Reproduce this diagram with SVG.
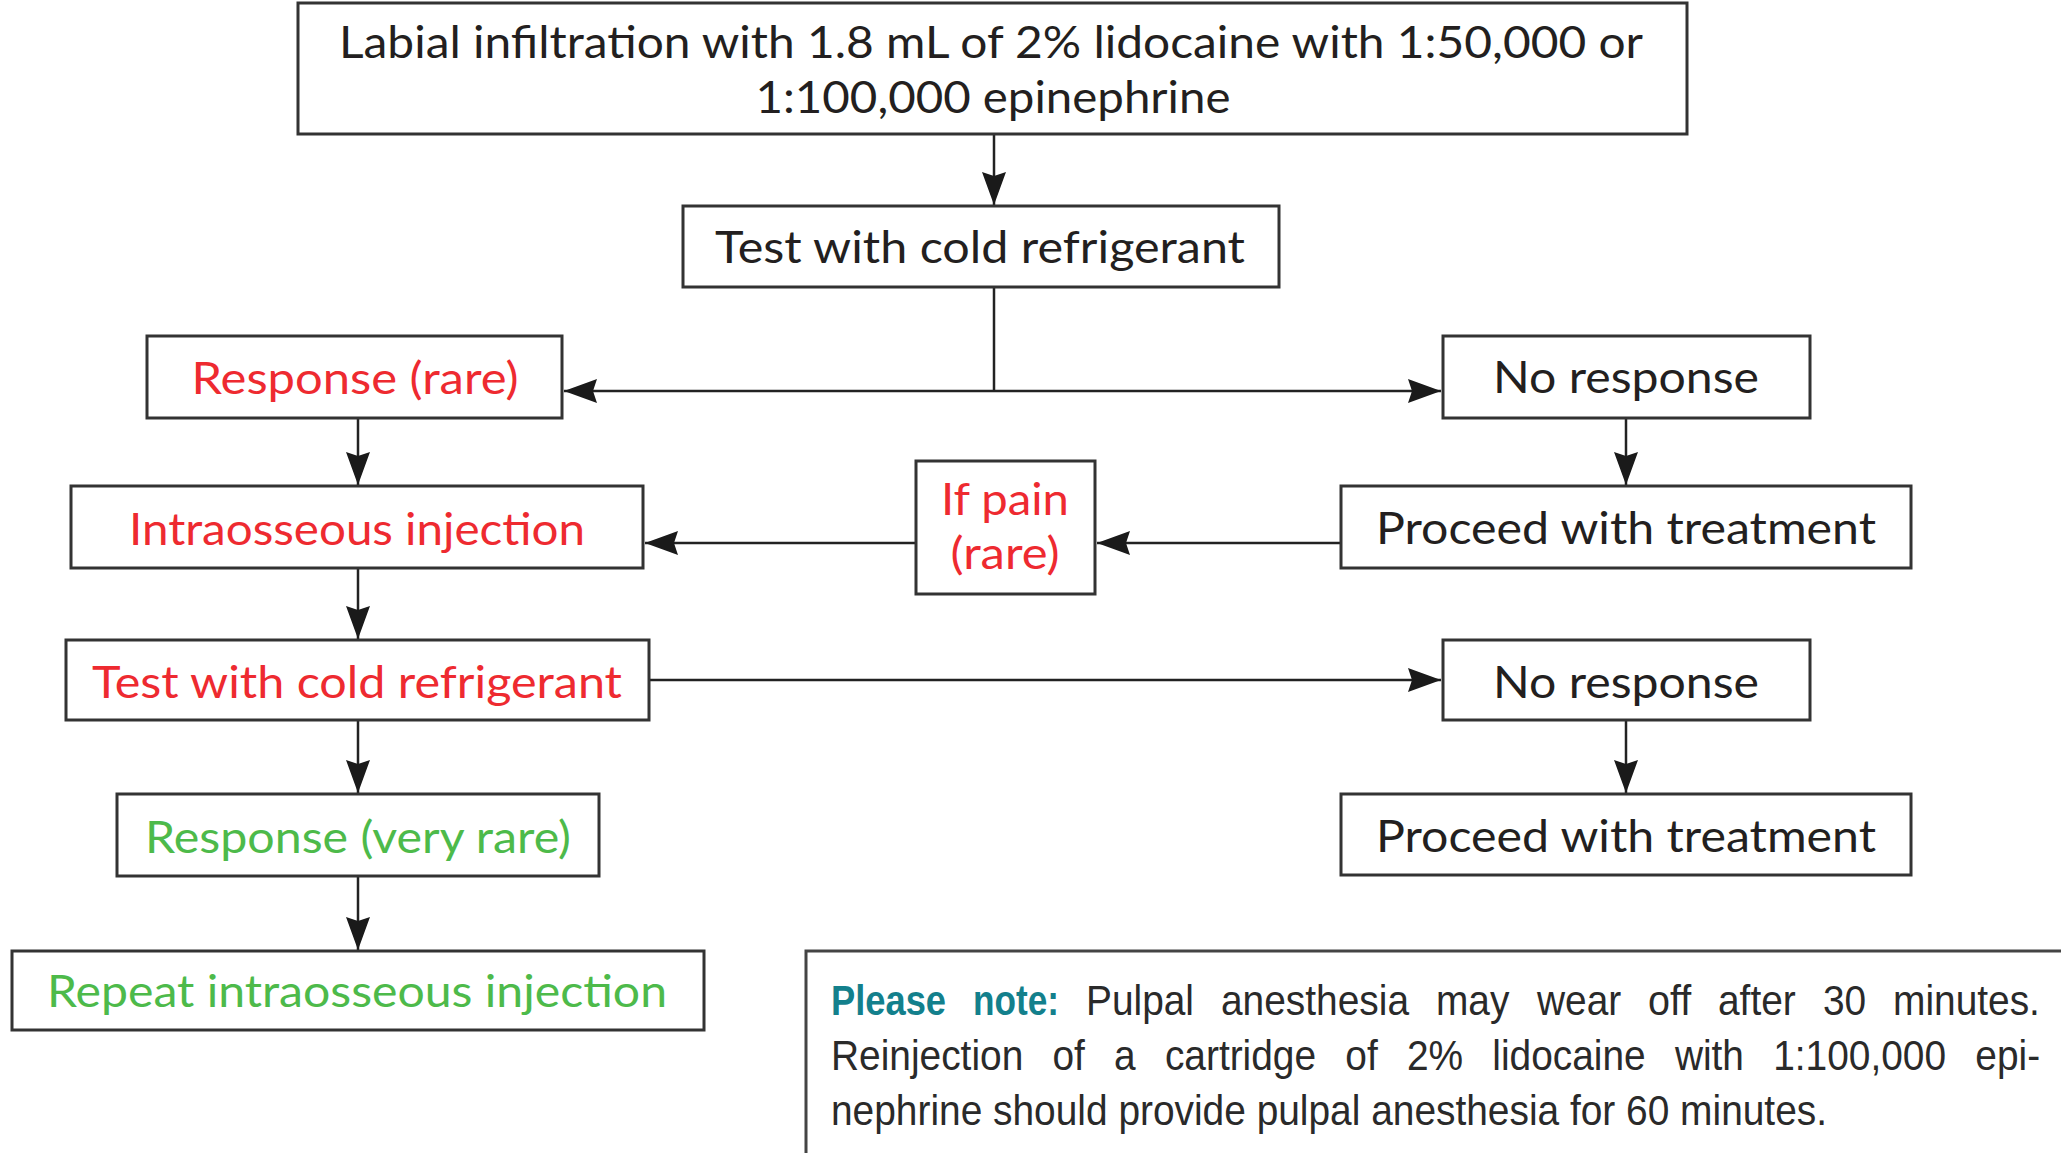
<svg xmlns="http://www.w3.org/2000/svg" width="2061" height="1153" viewBox="0 0 2061 1153">
<style>
.box{fill:#fff;stroke:#333;stroke-width:3}
.t{font-family:Lato,"Open Sans","Liberation Sans",sans-serif;font-size:45px;text-anchor:middle}
.k{fill:#231f20}
.r{fill:#ee2a30}
.g{fill:#4dba4a}
.c{fill:none;stroke:#222;stroke-width:2.5}
.n{font-family:"Liberation Sans",Arial,sans-serif;font-size:42px;fill:#2a2a2a}
.nb{font-weight:bold;fill:#13808c}
</style>
<defs>
<marker id="ah" viewBox="0 0 33 24" refX="33" refY="12" markerWidth="33" markerHeight="24" markerUnits="userSpaceOnUse" orient="auto">
<path d="M0,0 L33,12 L0,24 L4,12 Z" fill="#1a1a1a"/>
</marker>
</defs>
<rect width="2061" height="1153" fill="#fff"/>
<g id="connectors">
<path class="c" d="M994,135 L994,205" marker-end="url(#ah)"/>
<path class="c" d="M994,287 L994,391"/>
<path class="c" d="M994,391 L564,391" marker-end="url(#ah)"/>
<path class="c" d="M994,391 L1441,391" marker-end="url(#ah)"/>
<path class="c" d="M358,418 L358,485" marker-end="url(#ah)"/>
<path class="c" d="M1626,418 L1626,485" marker-end="url(#ah)"/>
<path class="c" d="M1341,543 L1097,543" marker-end="url(#ah)"/>
<path class="c" d="M916,543 L645,543" marker-end="url(#ah)"/>
<path class="c" d="M358,568 L358,639" marker-end="url(#ah)"/>
<path class="c" d="M649,680 L1441,680" marker-end="url(#ah)"/>
<path class="c" d="M1626,720 L1626,793" marker-end="url(#ah)"/>
<path class="c" d="M358,720 L358,793" marker-end="url(#ah)"/>
<path class="c" d="M358,877 L358,950" marker-end="url(#ah)"/>
</g>
<g id="n-top">
<rect class="box" x="298" y="3" width="1389" height="131"/>
<text class="t k" x="991" y="58" textLength="1304" lengthAdjust="spacingAndGlyphs">Labial infiltration with 1.8 mL of 2% lidocaine with 1:50,000 or</text>
<text class="t k" x="993" y="113" textLength="475" lengthAdjust="spacingAndGlyphs">1:100,000 epinephrine</text>
</g>
<g id="n-test1">
<rect class="box" x="683" y="206" width="596" height="81"/>
<text class="t k" x="980" y="263" textLength="530" lengthAdjust="spacingAndGlyphs">Test with cold refrigerant</text>
</g>
<g id="n-resp">
<rect class="box" x="147" y="336" width="415" height="82"/>
<text class="t r" x="355" y="394" textLength="327" lengthAdjust="spacingAndGlyphs">Response (rare)</text>
</g>
<g id="n-noresp1">
<rect class="box" x="1443" y="336" width="367" height="82"/>
<text class="t k" x="1626" y="393" textLength="266" lengthAdjust="spacingAndGlyphs">No response</text>
</g>
<g id="n-intra">
<rect class="box" x="71" y="486" width="572" height="82"/>
<text class="t r" x="357" y="545" textLength="456" lengthAdjust="spacingAndGlyphs">Intraosseous injection</text>
</g>
<g id="n-ifpain">
<rect class="box" x="916" y="461" width="179" height="133"/>
<text class="t r" x="1005" y="515" textLength="128" lengthAdjust="spacingAndGlyphs">If pain</text>
<text class="t r" x="1005" y="569" textLength="109" lengthAdjust="spacingAndGlyphs">(rare)</text>
</g>
<g id="n-proceed1">
<rect class="box" x="1341" y="486" width="570" height="82"/>
<text class="t k" x="1626" y="544" textLength="500" lengthAdjust="spacingAndGlyphs">Proceed with treatment</text>
</g>
<g id="n-test2">
<rect class="box" x="66" y="640" width="583" height="80"/>
<text class="t r" x="357" y="698" textLength="530" lengthAdjust="spacingAndGlyphs">Test with cold refrigerant</text>
</g>
<g id="n-noresp2">
<rect class="box" x="1443" y="640" width="367" height="80"/>
<text class="t k" x="1626" y="698" textLength="266" lengthAdjust="spacingAndGlyphs">No response</text>
</g>
<g id="n-veryrare">
<rect class="box" x="117" y="794" width="482" height="82"/>
<text class="t g" x="358" y="853" textLength="426" lengthAdjust="spacingAndGlyphs">Response (very rare)</text>
</g>
<g id="n-proceed2">
<rect class="box" x="1341" y="794" width="570" height="81"/>
<text class="t k" x="1626" y="852" textLength="500" lengthAdjust="spacingAndGlyphs">Proceed with treatment</text>
</g>
<g id="n-repeat">
<rect class="box" x="12" y="951" width="692" height="79"/>
<text class="t g" x="357" y="1007" textLength="620" lengthAdjust="spacingAndGlyphs">Repeat intraosseous injection</text>
</g>
<g id="note">
<rect x="806" y="951" width="1300" height="260" fill="#fff" stroke="#444" stroke-width="3"/>
<text class="n nb" x="831" y="1015" textLength="115" lengthAdjust="spacingAndGlyphs">Please</text>
<text class="n nb" x="973" y="1015" textLength="86" lengthAdjust="spacingAndGlyphs">note:</text>
<text class="n" x="1086" y="1015" textLength="108" lengthAdjust="spacingAndGlyphs">Pulpal</text>
<text class="n" x="1221" y="1015" textLength="188" lengthAdjust="spacingAndGlyphs">anesthesia</text>
<text class="n" x="1436" y="1015" textLength="73.4" lengthAdjust="spacingAndGlyphs">may</text>
<text class="n" x="1537" y="1015" textLength="84.2" lengthAdjust="spacingAndGlyphs">wear</text>
<text class="n" x="1648" y="1015" textLength="43.2" lengthAdjust="spacingAndGlyphs">off</text>
<text class="n" x="1718" y="1015" textLength="77.8" lengthAdjust="spacingAndGlyphs">after</text>
<text class="n" x="1823" y="1015" textLength="43.2" lengthAdjust="spacingAndGlyphs">30</text>
<text class="n" x="1893" y="1015" textLength="146.9" lengthAdjust="spacingAndGlyphs">minutes.</text>
<text class="n" x="831" y="1070" textLength="192.3" lengthAdjust="spacingAndGlyphs">Reinjection</text>
<text class="n" x="1052.5" y="1070" textLength="32.4" lengthAdjust="spacingAndGlyphs">of</text>
<text class="n" x="1114.1" y="1070" textLength="21.6" lengthAdjust="spacingAndGlyphs">a</text>
<text class="n" x="1164.9" y="1070" textLength="151.2" lengthAdjust="spacingAndGlyphs">cartridge</text>
<text class="n" x="1345.3" y="1070" textLength="32.4" lengthAdjust="spacingAndGlyphs">of</text>
<text class="n" x="1406.9" y="1070" textLength="56.2" lengthAdjust="spacingAndGlyphs">2%</text>
<text class="n" x="1492.3" y="1070" textLength="153.4" lengthAdjust="spacingAndGlyphs">lidocaine</text>
<text class="n" x="1674.9" y="1070" textLength="69.1" lengthAdjust="spacingAndGlyphs">with</text>
<text class="n" x="1773.2" y="1070" textLength="172.9" lengthAdjust="spacingAndGlyphs">1:100,000</text>
<text class="n" x="1975.3" y="1070" textLength="64.8" lengthAdjust="spacingAndGlyphs">epi-</text>
<text class="n" x="831" y="1125" textLength="996" lengthAdjust="spacingAndGlyphs">nephrine should provide pulpal anesthesia for 60 minutes.</text>
</g>
</svg>
